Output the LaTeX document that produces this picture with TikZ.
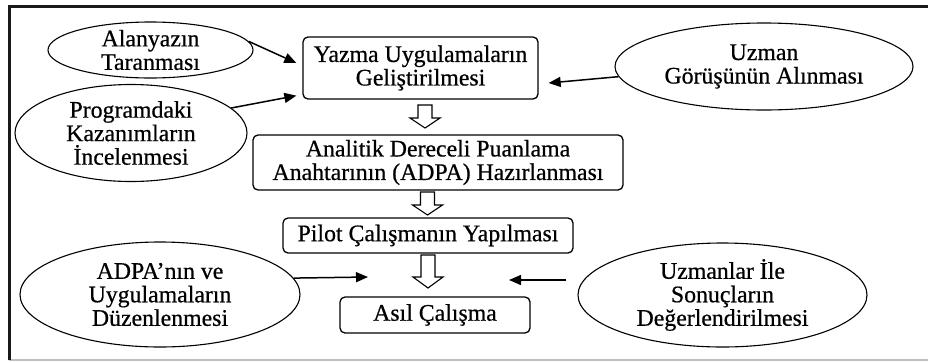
\documentclass[tikz,border=0pt]{standalone}
\usepackage{fontspec}
\setmainfont{Liberation Serif}[FakeBold=0.6]
\usetikzlibrary{shapes.geometric,arrows.meta,calc}
% hollow block arrow: #1 name, #2 centre, #3 half length, #4 head length
\newcommand\hollowarr[4]{%
  \coordinate (#1) at #2;
  \draw[hollowline] ($(#1)+(-7,-#3)$) -- ++(14,0) -- ($(#1)+(7,#3-#4)$) -- ++(8,0)
    -- ($(#1)+(0,#3)$) -- ($(#1)+(-15,#3-#4)$) -- ++(8,0) -- cycle;}
\begin{document}
\begin{tikzpicture}[x=1pt,y=-1pt,
  txt/.style={font=\fontsize{23.8pt}{23.5pt}\selectfont, align=center, text=black, inner sep=0pt},
  stage/.style={txt, draw, rounded corners=5pt, line width=1.3pt},
  oval/.style={draw, ellipse, line width=1.1pt, inner sep=0pt},
  conn/.style={line width=1.5pt, -{Triangle[length=12pt,width=10pt]}},
  hollowline/.style={draw, fill=white, line width=1.1pt, line join=miter}
]
\useasboundingbox (0,0) rectangle (928,362);
% frame
\draw[line width=2pt, black!25] (9,360) -- (928,360);
\draw[line width=3pt, black!90] (9,360) -- (9,6) -- (928,6);

% process boxes
\node[stage, minimum width=235pt, minimum height=62pt] (box1) at (420.5,68) {Yazma Uygulamaların\\Geliştirilmesi};
\node[stage, minimum width=370pt, minimum height=55pt] (box2) at (438,162.5) {Analitik Dereceli Puanlama\\Anahtarının (ADPA) Hazırlanması};
\node[stage, minimum width=290pt, minimum height=35pt] (box3) at (428,235.5) {Pilot Çalışmanın Yapılması};
\node[stage, minimum width=190pt, minimum height=36pt] (box4) at (435,315) {Asıl Çalışma};

% hollow arrows
\hollowarr{h1}{(425,116.5)}{11.5}{10}
\hollowarr{h2}{(427.5,203.5)}{11.5}{10}
\hollowarr{h3}{(428,271.5)}{16.5}{11}

% ellipses
\node[oval, minimum width=205pt, minimum height=56pt] (e1) at (150.5,50) {};
\node[txt] (e1t) at (e1.center) {Alanyazın\\Taranması};
\node[oval, minimum width=232pt, minimum height=97pt] (e2) at (131,133) {};
\node[txt] (e2t) at (e2.center) {Programdaki\\Kazanımların\\İncelenmesi};
\node[oval, minimum width=298pt, minimum height=87pt] (e3) at (764,66.5) {};
\node[txt] (e3t) at (e3.center) {Uzman\\Görüşünün Alınması};
\node[oval, minimum width=280pt, minimum height=105pt] (e4) at (160,294.5) {};
\node[txt] (e4t) at (e4.center) {ADPA’nın ve\\Uygulamaların\\Düzenlenmesi};
\node[oval, minimum width=289pt, minimum height=104pt] (e5) at (722.5,295) {};
\node[txt] (e5t) at (e5.center) {Uzmanlar İle\\Sonuçların\\Değerlendirilmesi};

% connectors
\draw[conn] (e1.5) -- ([xshift=-6pt,yshift=5pt]box1.west);
\draw[conn] (e2.14) -- ([xshift=-6pt,yshift=4pt]box1.south west);
\draw[conn] (e3.184) -- ([xshift=10pt,yshift=-15pt]box1.east);
\draw[conn] (e4.7) -- ([xshift=-60pt,yshift=-5.5pt]h3);
\draw[conn] ([xshift=-11pt,yshift=15pt]e5.west) -- ([xshift=81pt,yshift=-8.5pt]h3);
\end{tikzpicture}
\end{document}
